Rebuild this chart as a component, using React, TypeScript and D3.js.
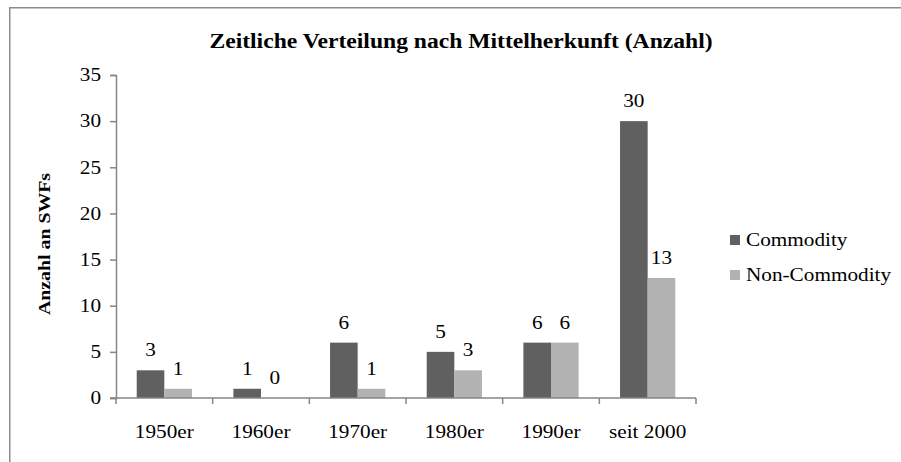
import React, { useEffect, useRef } from 'react';
import * as d3 from 'd3';

const categories = ["1950er", "1960er", "1970er", "1980er", "1990er", "seit 2000"];
const seriesNames = ["Commodity", "Non-Commodity"];
const commodity = [3, 1, 6, 5, 6, 30];
const nonCommodity = [1, 0, 1, 3, 6, 13];
const yTicks = [0, 5, 10, 15, 20, 25, 30, 35];

const colors = ["#606060", "#b2b2b2"];
const axisColor = "#868686";
const font = "'Liberation Serif', serif";
const stretchX = 1.18; // the original's type is drawn a bit wide

// move a text's anchor point into a transform so it can be widened around it
const widen = (sel) => sel.each(function () {
    const t = d3.select(this);
    const x = +t.attr("x") || 0;
    const y = +t.attr("y") || 0;
    t.attr("x", 0).attr("y", 0)
        .attr("transform", `translate(${x},${y}) scale(${stretchX},1)`);
});

const App = () => {
    const wrapper = useRef(null);
    const width = 901, height = 462;

    useEffect(() => {
        document.body.style.margin = "0";
        document.body.style.overflow = "hidden";

        d3.select(wrapper.current).selectAll("svg").remove();

        const svg = d3.select(wrapper.current)
            .append("svg")
            .attr("width", width)
            .attr("height", height)
            .style("display", "block");

        svg.append("rect")
            .attr("x", 0).attr("y", 0)
            .attr("width", width).attr("height", height)
            .attr("fill", "#fff");

        // chart frame (only left and top edges visible)
        svg.append("path")
            .attr("d", `M9.75,${height}V7.75H${width}`)
            .attr("fill", "none")
            .attr("stroke", "#8c8c8c")
            .attr("stroke-width", 1.5);

        const x = d3.scaleBand()
            .domain(categories)
            .range([116, 696]);

        const xs = d3.scaleBand()
            .domain(seriesNames)
            .range([0, x.bandwidth()])
            .paddingOuter(0.75);

        const y = d3.scaleLinear()
            .domain([0, 35])
            .range([398, 75]);

        const data = categories.map((c, i) => ({
            cat: c,
            values: [commodity[i], nonCommodity[i]]
        }));

        // bars
        const groups = svg.append("g")
            .selectAll("g")
            .data(data)
            .join("g")
            .attr("transform", d => `translate(${x(d.cat)},0)`);

        groups.selectAll("rect")
            .data(d => d.values.map((v, j) => ({ key: seriesNames[j], value: v, j })))
            .join("rect")
            .attr("x", d => xs(d.key))
            .attr("y", d => y(d.value))
            .attr("width", xs.bandwidth())
            .attr("height", d => y(0) - y(d.value))
            .attr("fill", d => colors[d.j]);

        groups.selectAll("text")
            .data(d => d.values.map((v, j) => ({ key: seriesNames[j], value: v })))
            .join("text")
            .attr("x", d => xs(d.key) + xs.bandwidth() / 2)
            .attr("y", d => y(d.value) - 14)
            .attr("text-anchor", "middle")
            .attr("font-size", 18)
            .attr("fill", "#000")
            .text(d => d.value)
            .call(widen);

        // y axis
        const yAxis = svg.append("g")
            .attr("transform", "translate(116,0)")
            .call(d3.axisLeft(y).tickValues(yTicks).tickSize(6).tickPadding(9));
        yAxis.select(".domain").attr("stroke", axisColor).attr("stroke-width", 1.5);
        yAxis.selectAll(".tick line").attr("stroke", axisColor).attr("stroke-width", 1.5);
        yAxis.selectAll(".tick text")
            .attr("fill", "#000")
            .attr("font-size", 18)
            .call(widen);

        // x axis
        const xAxisG = svg.append("g")
            .attr("transform", "translate(0,398)");
        xAxisG.append("line")
            .attr("x1", 110).attr("x2", 696)
            .attr("stroke", axisColor).attr("stroke-width", 1.5);
        const bounds = categories.map(c => x(c)).concat([x.range()[1]]);
        xAxisG.selectAll("line.tk")
            .data(bounds)
            .join("line")
            .attr("class", "tk")
            .attr("x1", d => d).attr("x2", d => d)
            .attr("y1", 0).attr("y2", 6)
            .attr("stroke", axisColor).attr("stroke-width", 1.5);
        xAxisG.selectAll("text")
            .data(categories)
            .join("text")
            .attr("x", d => x(d) + x.bandwidth() / 2)
            .attr("y", 40)
            .attr("text-anchor", "middle")
            .attr("font-size", 18)
            .text(d => d)
            .call(widen);

        // title
        svg.append("text")
            .attr("x", 461)
            .attr("y", 48)
            .attr("text-anchor", "middle")
            .attr("font-size", 20)
            .attr("font-weight", "bold")
            .text("Zeitliche Verteilung nach Mittelherkunft (Anzahl)")
            .call(widen);

        // y title
        svg.append("text")
            .attr("transform", `translate(50,244) rotate(-90) scale(${stretchX + 0.06},1)`)
            .attr("text-anchor", "middle")
            .attr("font-size", 16)
            .attr("font-weight", "bold")
            .text("Anzahl an SWFs");

        // legend
        const legend = svg.append("g")
            .selectAll("g")
            .data(seriesNames)
            .join("g")
            .attr("transform", (d, i) => `translate(730,${235 + i * 35})`);
        legend.append("rect")
            .attr("width", 10).attr("height", 10)
            .attr("fill", (d, i) => colors[i]);
        legend.append("text")
            .attr("x", 16)
            .attr("y", 11)
            .attr("font-size", 18)
            .text(d => d)
            .call(widen);

        svg.selectAll("text").style("font-family", font);
    }, []);

    return (
        <div className={"bar-chart"} ref={wrapper}>
        </div>
    );
};

export { App as default };
